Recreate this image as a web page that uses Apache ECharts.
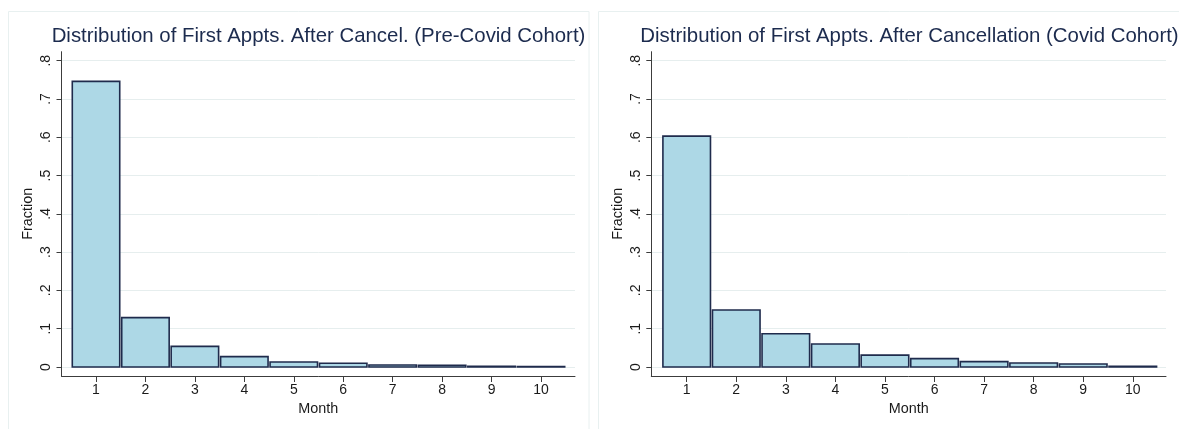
<!DOCTYPE html>
<html>
<head>
<meta charset="utf-8">
<script src="https://cdn.jsdelivr.net/npm/echarts@6/dist/echarts.min.js"></script>
<style>
html,body{margin:0;padding:0;background:#fff;}
#c{width:1179px;height:429px;}
</style>
</head>
<body>
<div id="c"></div>
<script>
const months = [1,2,3,4,5,6,7,8,9,10];
const preCovid = [0.746,0.129,0.054,0.027,0.013,0.0097,0.0052,0.0044,0.002,0.001];
const covid = [0.603,0.149,0.087,0.060,0.031,0.022,0.014,0.0105,0.008,0.002];
const yTicks = [0,0.1,0.2,0.3,0.4,0.5,0.6,0.7,0.8];
const titles = [
  'Distribution of First Appts. After Cancel. (Pre-Covid Cohort)',
  'Distribution of First Appts. After Cancellation (Covid Cohort)'
];

const FONT = '"Liberation Sans", Arial, sans-serif';
const AXIS_COLOR = '#3c3c3c';
const TEXT_COLOR = '#1a1a1a';
const TITLE_COLOR = '#1c2b4e';

function yLabel(v){
  if (Math.abs(v) < 1e-9) return '0';
  return '.' + Math.round(v*10);
}

const grids = [
  {left: 61.5, top: 51.7, width: 513.5, height: 324.3},
  {left: 651.3, top: 51.7, width: 514.7, height: 324.3}
];
const xRanges = [[0.302, 10.688],[0.286, 10.67]];
const titleCenters = [313.5, 904.5];

function renderBar(params, api){
  const m = api.value(0), v = api.value(1);
  const p0 = api.coord([m-0.5, v]);
  const p1 = api.coord([m+0.5, 0]);
  return {
    type: 'rect',
    shape: {x: p0[0]+1, y: p0[1], width: p1[0]-p0[0]-2, height: p1[1]-p0[1]},
    style: {fill: '#add8e6', stroke: '#1f2b4c', lineWidth: 1.6}
  };
}

const option = {
  animation: false,
  backgroundColor: '#ffffff',
  title: titles.map((t,i)=>({
    text: t,
    left: titleCenters[i],
    textAlign: 'center',
    top: 21,
    textStyle: {fontFamily: FONT, fontSize: 20.4, fontWeight: 'normal', color: TITLE_COLOR}
  })),
  graphic: [
    {type:'rect', shape:{x:8.5, y:11.5, width:580.5, height:430}, style:{fill:'none', stroke:'#e8f0f0', lineWidth:1}, silent:true},
    {type:'rect', shape:{x:598.5, y:11.5, width:600, height:430}, style:{fill:'none', stroke:'#e8f0f0', lineWidth:1}, silent:true}
  ],
  grid: grids,
  xAxis: [0,1].map(i=>({
    type: 'value',
    gridIndex: i,
    min: xRanges[i][0],
    max: xRanges[i][1],
    name: 'Month',
    nameLocation: 'middle',
    nameGap: 25,
    nameTextStyle: {fontFamily: FONT, fontSize: 14.4, color: TEXT_COLOR},
    axisLine: {show: true, onZero: false, lineStyle: {color: AXIS_COLOR, width: 1}},
    axisTick: {show: true, length: 6, customValues: months, lineStyle: {color: AXIS_COLOR}},
    axisLabel: {customValues: months, margin: 7, fontFamily: FONT, fontSize: 14, color: TEXT_COLOR},
    splitLine: {show: false}
  })),
  yAxis: [0,1].map(i=>({
    type: 'value',
    gridIndex: i,
    min: -0.0235,
    max: 0.8235,
    name: 'Fraction',
    nameLocation: 'middle',
    nameRotate: 90,
    nameGap: 26,
    nameTextStyle: {fontFamily: FONT, fontSize: 14.4, color: TEXT_COLOR},
    axisLine: {show: true, lineStyle: {color: AXIS_COLOR, width: 1}},
    axisTick: {show: true, length: 5, customValues: yTicks, lineStyle: {color: AXIS_COLOR}},
    axisLabel: {customValues: yTicks, rotate: 90, margin: 8, fontFamily: FONT, fontSize: 14, color: TEXT_COLOR, formatter: yLabel},
    splitLine: {show: true, lineStyle: {color: '#e6eeee', width: 1}}
  })),
  series: [preCovid, covid].map((vals,i)=>({
    type: 'custom',
    xAxisIndex: i,
    yAxisIndex: i,
    renderItem: renderBar,
    data: months.map((m,k)=>[m, vals[k]])
  }))
};

const chart = echarts.init(document.getElementById('c'), null, {renderer: 'canvas'});
chart.setOption(option);
</script>
</body>
</html>
